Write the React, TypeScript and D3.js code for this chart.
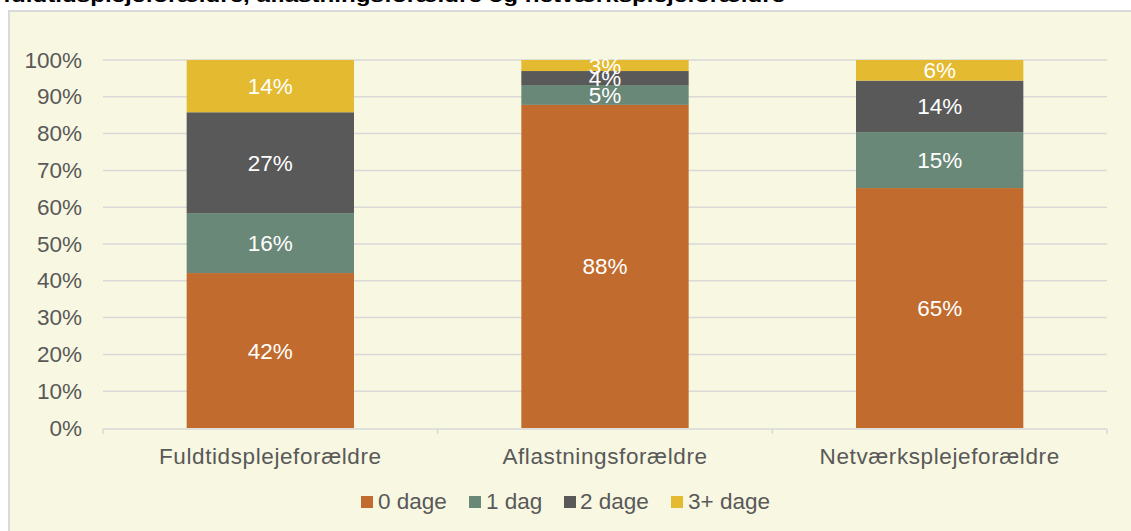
import React from "react";
import * as d3 from "d3";

const categories = ["Fuldtidsplejeforældre", "Aflastningsforældre", "Netværksplejeforældre"];
const seriesNames = ["0 dage", "1 dag", "2 dage", "3+ dage"];
const dage0 = [42.1, 87.8, 65.2];
const dag1 = [16.3, 5.4, 15.2];
const dage2 = [27.4, 3.8, 14.0];
const dage3plus = [14.2, 3.0, 5.6];
const labels0 = ["42%", "88%", "65%"];
const labels1 = ["16%", "5%", "15%"];
const labels2 = ["27%", "4%", "14%"];
const labels3 = ["14%", "3%", "6%"];
const yTicks = [0, 10, 20, 30, 40, 50, 60, 70, 80, 90, 100];
const title = "fuldtidsplejeforældre, aflastningsforældre og netværksplejeforældre";

const colors = ["#C16C2E", "#6A8877", "#595959", "#E3BA30"];

export default function App() {
  const W = 1131, H = 531;
  const left = 103, right = 1107, top = 60, bottom = 428;
  const x = d3.scaleBand<string>().domain(categories).range([left, right]).paddingInner(0.5).paddingOuter(0.25);
  const y = d3.scaleLinear().domain([0, 100]).range([bottom, top]);
  const series = [dage0, dag1, dage2, dage3plus];
  const labelSets = [labels0, labels1, labels2, labels3];
  const rows = categories.map((c, i) => {
    const r: any = { cat: c };
    seriesNames.forEach((s, j) => (r[s] = series[j][i]));
    return r;
  });
  const stacked = d3.stack<any>().keys(seriesNames)(rows);
  const font = "'Liberation Sans', Arial, sans-serif";
  const step = x.step();
  const tickXs = [left, ...categories.map((c) => (x(c) as number) - step * 0.25 + step)];
  const legendItems = [
    { sx: 361, tx: 378 },
    { sx: 469, tx: 486 },
    { sx: 564, tx: 580 },
    { sx: 671, tx: 688 },
  ];
  const fs = 22.5;
  return (
    <svg width={W} height={H} style={{ position: "absolute", left: 0, top: 0 }} fontFamily={font}>
      <rect x={0} y={0} width={W} height={H} fill="#ffffff" />
      <text x={3} y={2} fontSize={19} fontWeight="bold" fill="#000" textLength={782} lengthAdjust="spacingAndGlyphs">
        {title}
      </text>
      <rect x={9} y={11} width={1300} height={700} fill="#F8F7E1" stroke="#D9D9D9" strokeWidth={2} />
      {yTicks.map((t) => (
        <g key={t}>
          {t > 0 && <line x1={left} x2={right} y1={y(t)} y2={y(t)} stroke="#D9D9D9" strokeWidth={1.5} />}
          <text x={82} y={y(t) + 7.5} textAnchor="end" fontSize={fs} fill="#595959">
            {t}%
          </text>
        </g>
      ))}
      <line x1={left} x2={right} y1={bottom + 1} y2={bottom + 1} stroke="#D9D9D9" strokeWidth={1.5} />
      {tickXs.map((tx, i) => (
        <line key={i} x1={tx} x2={tx} y1={bottom + 1} y2={bottom + 6} stroke="#D9D9D9" strokeWidth={1.5} />
      ))}
      {stacked.map((layer, j) => (
        <g key={layer.key}>
          {layer.map((d, i) => (
            <rect
              key={i}
              x={x(categories[i])}
              width={x.bandwidth()}
              y={y(d[1])}
              height={y(d[0]) - y(d[1])}
              fill={colors[j]}
            />
          ))}
        </g>
      ))}
      {stacked.map((layer, j) => (
        <g key={"l" + layer.key}>
          {layer.map((d, i) => (
            <text
              key={i}
              x={(x(categories[i]) as number) + x.bandwidth() / 2}
              y={(y(d[0]) + y(d[1])) / 2 + 8}
              textAnchor="middle"
              fontSize={fs}
              fill="#ffffff"
            >
              {labelSets[j][i]}
            </text>
          ))}
        </g>
      ))}
      {categories.map((c) => (
        <text
          key={c}
          x={(x(c) as number) + x.bandwidth() / 2}
          y={464}
          textAnchor="middle"
          fontSize={fs}
          letterSpacing={0.6}
          fill="#595959"
        >
          {c}
        </text>
      ))}
      {seriesNames.map((s, j) => (
        <g key={s}>
          <rect x={legendItems[j].sx} y={496} width={12} height={12} fill={colors[j]} />
          <text x={legendItems[j].tx} y={509} fontSize={fs} fill="#595959">
            {s}
          </text>
        </g>
      ))}
    </svg>
  );
}
